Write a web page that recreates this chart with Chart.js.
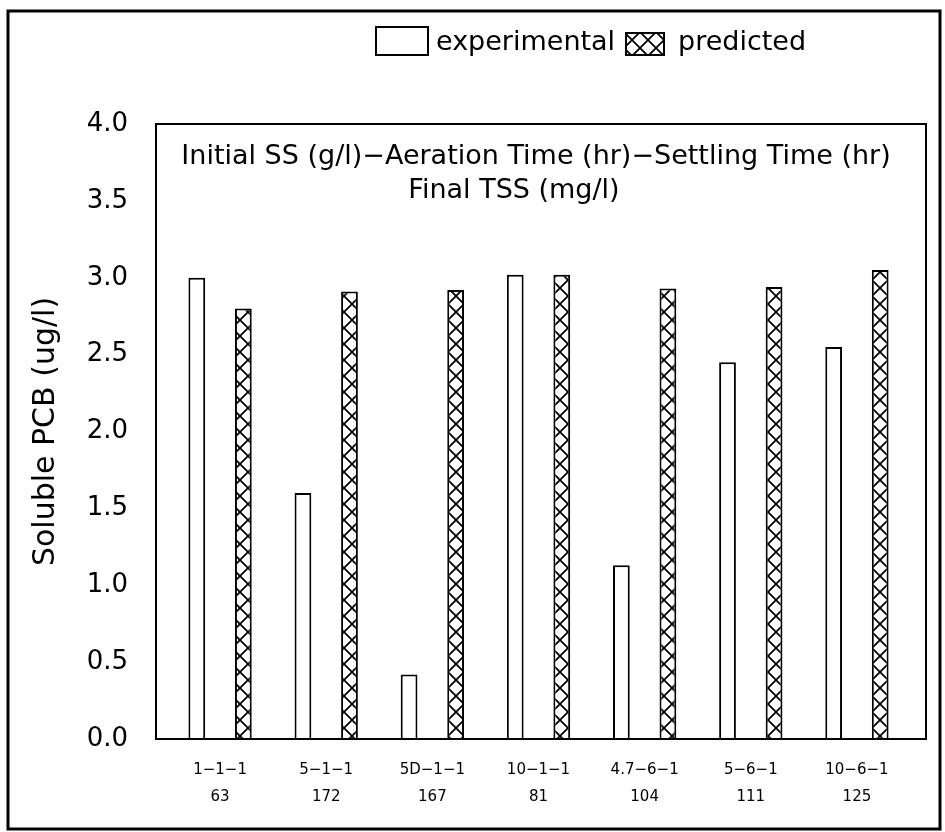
<!DOCTYPE html>
<html lang="en">
<head>
<meta charset="UTF-8">
<title>Soluble PCB</title>
<script src="https://cdn.jsdelivr.net/npm/chart.js@4.4.0/dist/chart.umd.min.js"></script>
<style>
  body { margin: 0; background: #fff; }
  canvas { display: block; }
</style>
</head>
<body>
<canvas id="myChart" width="945" height="832"></canvas>
<script>
// run conditions: Initial SS - Aeration Time - Settling Time, and Final TSS
const conditions = ['1\u22121\u22121', '5\u22121\u22121', '5D\u22121\u22121', '10\u22121\u22121', '4.7\u22126\u22121', '5\u22126\u22121', '10\u22126\u22121'];
const finalTss = ['63', '172', '167', '81', '104', '111', '125'];
const experimental = [3.0, 1.6, 0.42, 3.02, 1.13, 2.45, 2.55];
const predicted = [2.8, 2.91, 2.92, 3.02, 2.93, 2.94, 3.05];
const yTicks = [0, 0.5, 1.0, 1.5, 2.0, 2.5, 3.0, 3.5, 4.0];

const FONT = "'DejaVu Sans', sans-serif";

function crossHatch() {
    const tile = document.createElement('canvas');
    tile.width = 16;
    tile.height = 16;
    const c = tile.getContext('2d');
    c.fillStyle = '#fff';
    c.fillRect(0, 0, 16, 16);
    c.strokeStyle = '#000';
    c.lineWidth = 1.8;
    c.beginPath();
    c.moveTo(-2, -2); c.lineTo(18, 18);
    c.moveTo(18, -2); c.lineTo(-2, 18);
    c.stroke();
    return document.getElementById('myChart').getContext('2d').createPattern(tile, 'repeat');
}
const hatch = crossHatch();

// frame, legend and inner caption
const decor = {
    id: 'decor',
    afterDraw(chart) {
        const ctx = chart.ctx;
        const a = chart.chartArea;
        ctx.save();
        ctx.strokeStyle = '#000';
        // outer frame
        ctx.lineWidth = 3;
        ctx.strokeRect(8, 11, 932, 818);
        // plot box
        ctx.lineWidth = 2;
        ctx.strokeRect(a.left - 11, a.top, a.right - a.left + 27, a.bottom - a.top);

        // legend
        ctx.fillStyle = '#fff';
        ctx.fillRect(376, 27, 52, 28);
        ctx.strokeRect(376, 27, 52, 28);
        ctx.fillStyle = hatch;
        ctx.fillRect(626, 33, 38, 22);
        ctx.strokeRect(626, 33, 38, 22);
        ctx.fillStyle = '#000';
        ctx.font = '27px ' + FONT;
        ctx.textBaseline = 'middle';
        ctx.textAlign = 'left';
        ctx.fillText('experimental', 436, 43);
        ctx.fillText('predicted', 678, 43);

        // caption inside the plot
        ctx.textAlign = 'center';
        ctx.font = '27px ' + FONT;
        ctx.fillText('Initial SS (g/l)\u2212Aeration Time (hr)\u2212Settling Time (hr)', 536, 157);
        ctx.fillText('Final TSS (mg/l)', 514, 191);
        ctx.restore();
    }
};

const ctx = document.getElementById('myChart').getContext('2d');
const myChart = new Chart(ctx, {
    type: 'bar',
    data: {
        labels: conditions.map((c, i) => [c, finalTss[i]]),
        datasets: [{
            label: 'experimental',
            data: experimental,
            backgroundColor: '#fff',
            borderColor: '#000',
            borderWidth: 2,
            categoryPercentage: 0.877,
            barPercentage: 0.36
        }, {
            label: 'predicted',
            data: predicted,
            backgroundColor: hatch,
            borderColor: '#000',
            borderWidth: 2,
            categoryPercentage: 0.877,
            barPercentage: 0.36
        }]
    },
    options: {
        responsive: false,
        animation: false,
        devicePixelRatio: 1,
        layout: { padding: { top: 124, right: 35, bottom: 0, left: 0 } },
        plugins: {
            legend: { display: false },
            tooltip: { enabled: false }
        },
        scales: {
            x: {
                grid: { display: false, drawTicks: false },
                border: { display: false },
                ticks: {
                    color: '#000',
                    font: { family: FONT, size: 15, lineHeight: 1.8 },
                    padding: 18,
                    maxRotation: 0,
                    autoSkip: false
                },
                afterFit(scale) { scale.height = 93; }
            },
            y: {
                min: 0,
                max: 4,
                grid: { display: false, drawTicks: false },
                border: { display: false },
                afterBuildTicks(scale) { scale.ticks = yTicks.map(v => ({ value: v })); },
                ticks: {
                    color: '#000',
                    font: { family: FONT, size: 26 },
                    padding: 39,
                    callback: v => Number(v).toFixed(1)
                },
                title: {
                    display: true,
                    text: 'Soluble PCB (ug/l)',
                    color: '#000',
                    font: { family: FONT, size: 30 },
                    padding: { top: 28 }
                },
                afterFit(scale) { scale.width = 167; }
            }
        }
    },
    plugins: [decor]
});
</script>
</body>
</html>
